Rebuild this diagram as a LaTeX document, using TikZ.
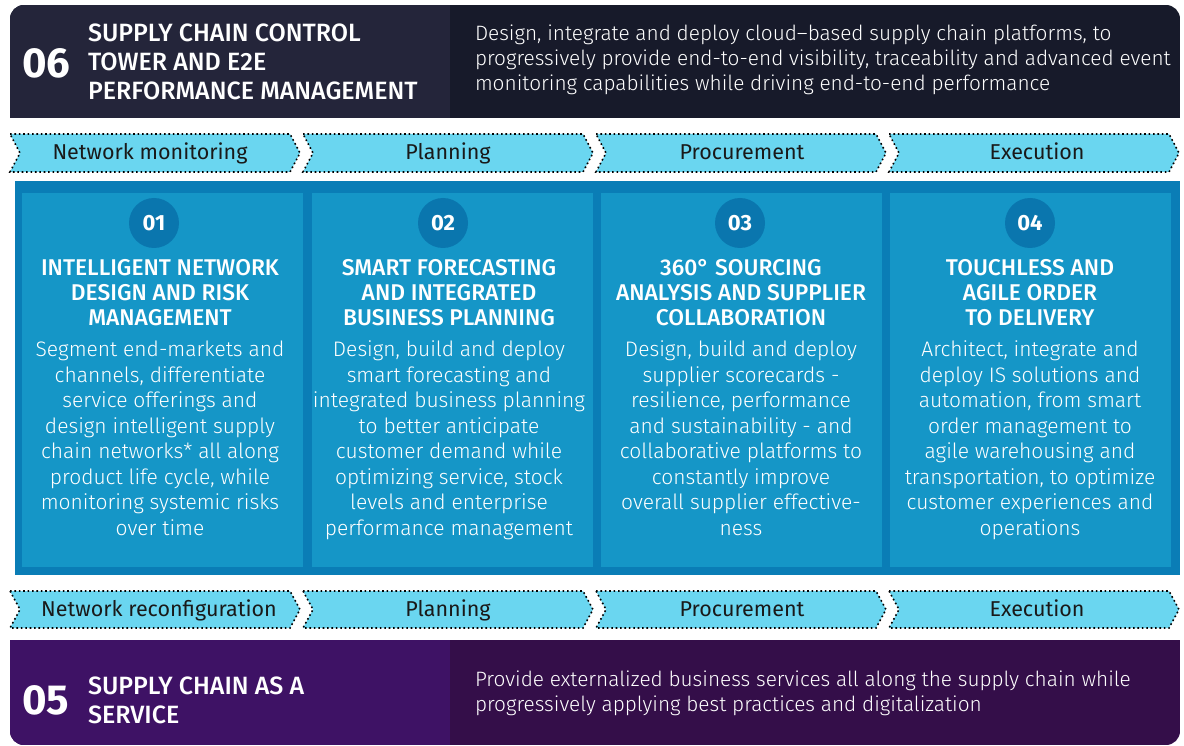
\documentclass[tikz,border=0pt]{standalone}
\usepackage{fontspec}
\setmainfont{Fira Sans}
\newfontfamily\lightf{Fira Sans Light}
\newfontfamily\medf{Fira Sans Medium}
\definecolor{topL}{HTML}{24253A}
\definecolor{topR}{HTML}{171A2A}
\definecolor{botL}{HTML}{3E1265}
\definecolor{botR}{HTML}{340E49}
\definecolor{framec}{HTML}{0A7DB6}
\definecolor{panelc}{HTML}{1596C7}
\definecolor{circc}{HTML}{0A76AE}
\definecolor{chevc}{HTML}{6AD6F0}
\begin{document}
\begin{tikzpicture}[x=1pt,y=-1pt,
 every node/.style={inner sep=0pt, outer sep=0pt},
 hdnum/.style={text=white, font=\bfseries\fontsize{42}{42}\selectfont, anchor=west},
 hdtitle/.style={text=white, font=\medf\fontsize{25}{29}\selectfont, align=left, anchor=west},
 hdtext/.style={text=white, font=\lightf\fontsize{20.8}{25}\selectfont, align=left, anchor=west},
 chev/.style={fill=chevc, draw=black, dash pattern=on 1.6pt off 2.8pt, line width=1.6pt},
 chevlabel/.style={text=black!90, font=\fontsize{21.5}{21.5}\selectfont, anchor=base},
 panel/.style={fill=panelc},
 circ/.style={circle, fill=circc, minimum size=50pt, text=white, font=\bfseries\fontsize{22}{22}\selectfont},
 ptitle/.style={text=white, font=\medf\fontsize{22.8}{25}\selectfont, align=center, anchor=north},
 pbody/.style={text=white, font=\lightf\fontsize{21}{25.5}\selectfont, align=center, anchor=north},
]
\useasboundingbox (0,0) rectangle (1184,746);
% top box
\begin{scope}
\clip[rounded corners=14pt] (10,5) rectangle (1180,150);
\fill[topR] (10,5) rectangle (1180,118);
\fill[topL] (10,5) rectangle (450,118);
\end{scope}
\node[hdnum] (n06) at (22,63) {06};
\node[hdtitle] (t06) at (88,62) {SUPPLY CHAIN CONTROL\\TOWER AND E2E\\PERFORMANCE MANAGEMENT};
\node[hdtext] (d06) at (475,60) {Design, integrate and deploy cloud–based supply chain platforms, to\\progressively provide end-to-end visibility, traceability and advanced event\\monitoring capabilities while driving end-to-end performance};
% chevron bands
\foreach \yt/\yb/\band in {134/172/a,591/628/b}{
  \foreach \i in {0,1,2,3}{
    \pgfmathsetmacro{\s}{10+293*\i}
    \pgfmathsetmacro{\ym}{(\yt+\yb)/2}
    \draw[chev] (\s,\yt) -- (\s+280,\yt) -- (\s+290,\ym) -- (\s+280,\yb) -- (\s,\yb) -- (\s+10,\ym) -- cycle;
  }
}
\node[chevlabel] (ca1) at (150,160) {Network monitoring};
\node[chevlabel] (ca2) at (448,160) {Planning};
\node[chevlabel] (ca3) at (742,160) {Procurement};
\node[chevlabel] (ca4) at (1037,160) {Execution};
\node[chevlabel] (cb1) at (159,616.5) {Network reconfiguration};
\node[chevlabel] (cb2) at (448,616.5) {Planning};
\node[chevlabel] (cb3) at (742,616.5) {Procurement};
\node[chevlabel] (cb4) at (1037,616.5) {Execution};
% middle frame
\fill[framec] (15,181) rectangle (1180,575);
\foreach \px in {22,312,601,890}{
  \fill[panel] (\px,193) rectangle (\px+281,567);
}
\node[circ] (c1) at (154,223) {01};
\node[circ] (c2) at (443,223) {02};
\node[circ] (c3) at (740,223) {03};
\node[circ] (c4) at (1030,223) {04};
\node[ptitle] (h1) at (160,259) {INTELLIGENT NETWORK\\DESIGN AND RISK\\MANAGEMENT};
\node[ptitle] (h2) at (449,259) {SMART FORECASTING\\AND INTEGRATED\\BUSINESS PLANNING};
\node[ptitle] (h3) at (741,259) {360° SOURCING\\ANALYSIS AND SUPPLIER\\COLLABORATION};
\node[ptitle] (h4) at (1030,259) {TOUCHLESS AND\\AGILE ORDER\\TO DELIVERY};
\node[pbody] (b1) at (160,341) {Segment end-markets and\\channels, differentiate\\service offerings and\\design intelligent supply\\chain networks* all along\\product life cycle, while\\monitoring systemic risks\\over time};
\node[pbody] (b2) at (449,341) {Design, build and deploy\\smart forecasting and\\integrated business planning\\to better anticipate\\customer demand while\\optimizing service, stock\\levels and enterprise\\performance management};
\node[pbody] (b3) at (741,341) {Design, build and deploy\\supplier scorecards -\\resilience, performance\\and sustainability - and\\collaborative platforms to\\constantly improve\\overall supplier effective-\\ness};
\node[pbody] (b4) at (1030,341) {Architect, integrate and\\deploy IS solutions and\\automation, from smart\\order management to\\agile warehousing and\\transportation, to optimize\\customer experiences and\\operations};
% bottom box
\begin{scope}
\clip[rounded corners=14pt] (10,600) rectangle (1180,745);
\fill[botR] (10,640) rectangle (1180,745);
\fill[botL] (10,640) rectangle (450,745);
\end{scope}
\node[hdnum] (n05) at (22,700) {05};
\node[hdtitle] (t05) at (88,700) {SUPPLY CHAIN AS A\\SERVICE};
\node[hdtext] (d05) at (475,693.5) {Provide externalized business services all along the supply chain while\\progressively applying best practices and digitalization};
\end{tikzpicture}
\end{document}
